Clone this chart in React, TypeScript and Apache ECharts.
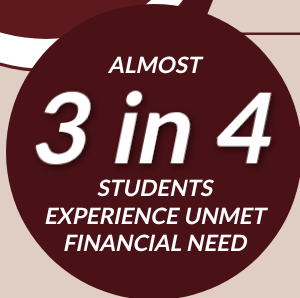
import React, { useEffect, useRef } from "react";
import * as echarts from "echarts";

// ---- content ----
const leadLines = ["ALMOST"];
const ratioValues = [3, 4]; // "3 in 4"
const ratioWord = "in";
const tailLines = ["STUDENTS", "EXPERIENCE UNMET", "FINANCIAL NEED"];

const BEIGE = "#e0cdc4";
const MAROON = "#5e191e";
const DARK = "#4a1216";
const LINE = "#5a1a1f";
const FAMILY = "Lato";

export default function App() {
  const ref = useRef<HTMLDivElement>(null);
  useEffect(() => {
    if (!ref.current) return;
    const chart = echarts.init(ref.current, undefined, { renderer: "svg" });
    const cx = 156;
    const textEl = (text: string, y: number, size: number, extra: any = {}) => ({
      type: "text",
      x: cx,
      y,
      skewX: -0.2,
      style: {
        text,
        fill: "#ffffff",
        fontFamily: FAMILY,
        fontSize: size,
        fontWeight: "bold",
        textAlign: "center",
        textVerticalAlign: "middle",
        verticalAlign: "middle",
        lineHeight: Math.round(size * 0.8),
        ...extra,
      },
    });
    const lineYs = [187.5, 215.5, 243];
    chart.setOption({
      animation: false,
      graphic: [
        { type: "rect", shape: { x: 0, y: 0, width: 300, height: 298 }, style: { fill: BEIGE } },
        // top-left decorative disk with white ring and thin dark ring
        { type: "ellipse", shape: { cx: 46, cy: -122, rx: 181, ry: 194 }, style: { fill: LINE } },
        { type: "ellipse", shape: { cx: 46, cy: -122, rx: 178, ry: 191 }, style: { fill: "#ffffff" } },
        { type: "circle", shape: { cx: 46, cy: -122, r: 161 }, style: { fill: MAROON } },
        // dark wedge at the top
        { type: "polygon", shape: { points: [[183, 0], [213, 0], [205, 20], [178, 14]] }, style: { fill: DARK } },
        // thin horizontal rule on the right
        { type: "rect", shape: { x: 220, y: 32.5, width: 80, height: 2.5 }, style: { fill: LINE } },
        // main circle
        { type: "circle", shape: { cx: 154, cy: 152, r: 148 }, style: { fill: DARK } },
        textEl(leadLines[0], 65, 22.5),
        textEl(`${ratioValues[0]} ${ratioWord} ${ratioValues[1]}`, 126, 97, {
          textShadowColor: "rgba(0,0,0,0.6)",
          textShadowBlur: 8,
          textShadowOffsetX: 3,
          textShadowOffsetY: 3,
        }),
        ...tailLines.map((t, i) => textEl(t, lineYs[i], 22.5)),
      ],
    });
    return () => chart.dispose();
  }, []);
  return (
    <div
      ref={ref}
      style={{ position: "fixed", left: 0, top: 0, width: 300, height: 298 }}
    />
  );
}
